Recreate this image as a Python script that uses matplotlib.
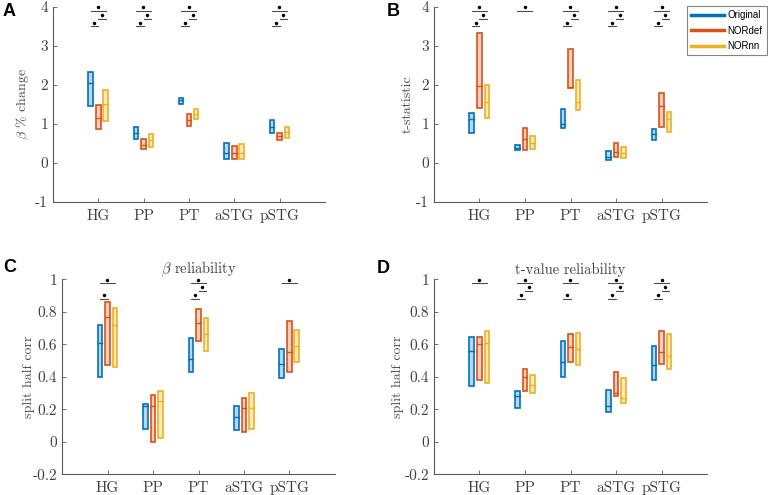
import numpy as np
import matplotlib
matplotlib.use("Agg")
import matplotlib.pyplot as plt
from matplotlib.patches import Rectangle
from matplotlib.lines import Line2D
from matplotlib.colors import to_rgba

plt.rcParams['font.family'] = 'cmr10'
plt.rcParams['mathtext.fontset'] = 'cm'
plt.rcParams['axes.unicode_minus'] = False

regions = ['HG', 'PP', 'PT', 'aSTG', 'pSTG']
methods = ['Original', 'NORdef', 'NORnn']
colors = ['#0072BD', '#D95319', '#EDB120']

# [low, median, high] for each region
# A: beta % change
pct_orig = [[1.46, 2.06, 2.34], [0.61, 0.76, 0.91], [1.52, 1.61, 1.67], [0.09, 0.25, 0.52], [0.76, 0.92, 1.09]]
pct_def = [[0.88, 1.16, 1.49], [0.35, 0.45, 0.62], [0.95, 1.10, 1.25], [0.09, 0.25, 0.44], [0.60, 0.69, 0.78]]
pct_nn = [[1.08, 1.50, 1.87], [0.42, 0.58, 0.74], [1.12, 1.26, 1.39], [0.09, 0.25, 0.48], [0.63, 0.79, 0.92]]
# B: t-statistic
tst_orig = [[0.78, 1.12, 1.27], [0.32, 0.38, 0.46], [0.89, 1.00, 1.38], [0.07, 0.15, 0.30], [0.58, 0.75, 0.88]]
tst_def = [[1.42, 1.97, 3.32], [0.32, 0.62, 0.90], [1.91, 1.94, 2.91], [0.15, 0.29, 0.50], [0.91, 1.46, 1.80]]
tst_nn = [[1.14, 1.55, 1.99], [0.35, 0.52, 0.69], [1.35, 1.56, 2.13], [0.13, 0.25, 0.42], [0.80, 1.12, 1.31]]
# C: beta reliability
brel_orig = [[0.40, 0.61, 0.72], [0.08, 0.22, 0.23], [0.43, 0.51, 0.64], [0.07, 0.15, 0.22], [0.39, 0.48, 0.57]]
brel_def = [[0.47, 0.77, 0.86], [0.00, 0.22, 0.29], [0.62, 0.73, 0.815], [0.06, 0.21, 0.27], [0.43, 0.55, 0.745]]
brel_nn = [[0.46, 0.72, 0.82], [0.02, 0.25, 0.31], [0.56, 0.66, 0.76], [0.08, 0.21, 0.30], [0.49, 0.59, 0.69]]
# D: t-value reliability
trel_orig = [[0.34, 0.56, 0.645], [0.21, 0.28, 0.31], [0.40, 0.49, 0.62], [0.185, 0.22, 0.32], [0.38, 0.47, 0.59]]
trel_def = [[0.38, 0.60, 0.645], [0.315, 0.40, 0.445], [0.49, 0.58, 0.66], [0.28, 0.30, 0.43], [0.48, 0.55, 0.68]]
trel_nn = [[0.36, 0.61, 0.68], [0.30, 0.35, 0.41], [0.47, 0.57, 0.67], [0.24, 0.27, 0.39], [0.45, 0.53, 0.66]]

# significance: top = Original vs NORnn, mid = NORdef vs NORnn, bot = Original vs NORdef
sig_pct = [[1, 1, 1, 0, 1], [1, 1, 1, 0, 1], [1, 1, 1, 0, 1]]
sig_tst = [[1, 1, 1, 1, 1], [1, 0, 1, 1, 1], [1, 0, 1, 1, 1]]
sig_brel = [[1, 0, 1, 0, 1], [0, 0, 1, 0, 0], [1, 0, 1, 0, 0]]
sig_trel = [[1, 1, 1, 1, 1], [0, 1, 0, 1, 1], [0, 1, 1, 1, 1]]

offs = [-0.17, 0.0, 0.16]
w = 0.1
axcol = '0.35'


def draw_panel(ax, series, sigs, ylim, yticks, ylabel, labx):
    x = np.arange(1, len(regions) + 1)
    for vals, off, c in zip(series, offs, colors):
        for xi, (lo, med, hi) in zip(x, vals):
            fc = to_rgba(c, 0.28)
            ax.add_patch(Rectangle((xi + off - w / 2, lo), w, hi - lo,
                                   facecolor=fc, edgecolor=c, lw=1.2))
            ax.plot([xi + off - w / 2, xi + off + w / 2], [med, med], color=c, lw=1.0)
    rng = ylim[1] - ylim[0]
    pairs = [(offs[0], offs[2]), (offs[1], offs[2]), (offs[0], offs[1])]
    levels = [0.022, 0.06, 0.10]
    for row, (a, b), lev in zip(sigs, pairs, levels):
        yb = ylim[1] - lev * rng
        for xi, s in zip(x, row):
            if s:
                ax.plot([xi + a, xi + b], [yb, yb], color='0.3', lw=0.8, clip_on=False)
                ax.plot([xi + (a + b) / 2], [yb + 0.02 * rng], marker='o', ms=2.5,
                        color='k', mec='none', clip_on=False)
    ax.set_xlim(0, 6)
    ax.set_ylim(*ylim)
    ax.set_xticks(x)
    ax.set_xticklabels(regions)
    ax.set_yticks(yticks)
    ax.set_yticklabels(['%g' % t for t in yticks])
    ax.spines['top'].set_visible(False)
    ax.spines['right'].set_visible(False)
    for s in ['left', 'bottom']:
        ax.spines[s].set_color(axcol)
        ax.spines[s].set_linewidth(0.8)
    ax.tick_params(direction='in', length=3, width=0.6, colors=axcol,
                   labelcolor='0.25', labelsize=11)
    ax.tick_params(axis='x', pad=5)
    ax.set_ylabel(ylabel, fontsize=10, color='0.3')
    ax.yaxis.set_label_coords(labx, 0.5)


fig = plt.figure(figsize=(7.68, 4.95), dpi=100)
axA = fig.add_axes([0.069, 0.592, 0.354, 0.394])
axB = fig.add_axes([0.565, 0.592, 0.356, 0.394])
axC = fig.add_axes([0.081, 0.042, 0.355, 0.394])
axD = fig.add_axes([0.565, 0.042, 0.356, 0.394])

draw_panel(axA, [pct_orig, pct_def, pct_nn], sig_pct, (-1, 4), np.arange(-1, 5),
           r'$\beta$ % change', -0.08)
draw_panel(axB, [tst_orig, tst_def, tst_nn], sig_tst, (-1, 4), np.arange(-1, 5),
           't-statistic', -0.075)
ticks_r = np.round(np.arange(-0.2, 1.01, 0.2), 1)
draw_panel(axC, [brel_orig, brel_def, brel_nn], sig_brel, (-0.2, 1), ticks_r,
           'split half corr', -0.10)
draw_panel(axD, [trel_orig, trel_def, trel_nn], sig_trel, (-0.2, 1), ticks_r,
           'split half corr', -0.11)
axC.set_title(r'$\beta$ reliability', fontsize=10.5, color='0.25', pad=4)
axD.set_title('t-value reliability', fontsize=10.5, color='0.25', pad=4)

for lab, (px, py) in zip('ABCD', [(3, 3), (387, 3), (3, 259), (377, 260)]):
    fig.text(px / 768, 1 - py / 495, lab, fontsize=13, fontweight='bold',
             family='Liberation Sans', ha='left', va='top')

handles = [Line2D([], [], color=c, lw=2.5) for c in colors]
leg = fig.legend(handles, methods, loc='upper left', bbox_to_anchor=(687 / 768, 1 - 6 / 495),
                 prop={'family': 'Liberation Sans', 'size': 7}, frameon=True,
                 fancybox=False, edgecolor='0.4', handlelength=3.4, handletextpad=0.3,
                 borderpad=0.45, labelspacing=0.55, borderaxespad=0)
leg.get_frame().set_linewidth(0.8)

fig.savefig('out.png', dpi=100)
